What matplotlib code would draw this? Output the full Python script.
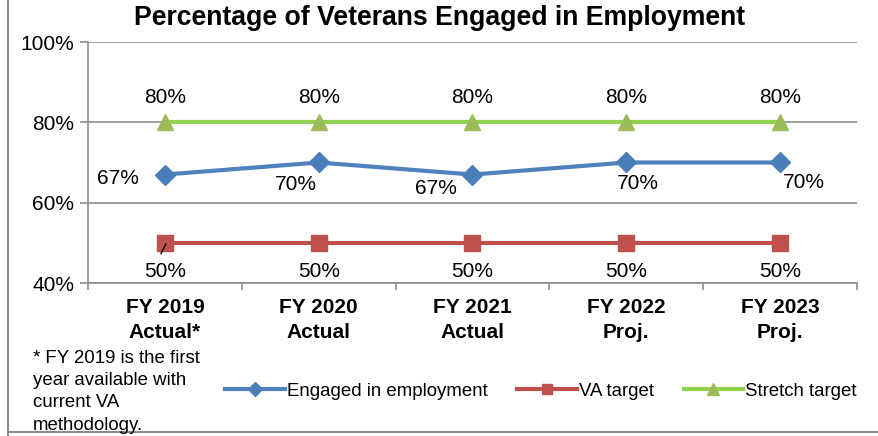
import matplotlib
matplotlib.use("Agg")
import matplotlib.pyplot as plt
from matplotlib.lines import Line2D
from matplotlib.transforms import offset_copy

plt.rcParams['font.family'] = ['Liberation Sans', 'DejaVu Sans']

# Datos
categorias = ['FY 2019\nActual*', 'FY 2020\nActual', 'FY 2021\nActual',
              'FY 2022\nProj.', 'FY 2023\nProj.']
empleo = [67, 70, 67, 70, 70]
meta_va = [50, 50, 50, 50, 50]
meta_ext = [80, 80, 80, 80, 80]
nota = '* FY 2019 is the first\nyear available with\ncurrent VA\nmethodology.'

# Desplazamientos de las etiquetas (pixeles)
off_empleo = [(-47, -4), (-23, -22), (-37, -14), (12, -21), (24, -20)]
off_va = [(0, -29)] * 5
off_ext = [(0, 25)] * 5

azul, rojo, verde, verde_m = '#4F81BD', '#C0504D', '#92D050', '#9BBB59'
gris = '#8C8C8C'

fig = plt.figure(figsize=(8.79, 4.36), dpi=100)
ax = fig.add_axes([88/879, 1 - 283/436, (857-88)/879, (283-42)/436])

x = list(range(len(categorias)))
ax.plot(x, empleo, color=azul, lw=3, marker='D', ms=10, mfc='#4A7EBB',
        mec='#4A7EBB', label='Engaged in employment', zorder=4)
ax.plot(x, meta_va, color=rojo, lw=3, marker='s', ms=11, mfc=rojo,
        mec=rojo, label='VA target', zorder=3)
ax.plot(x, meta_ext, color=verde, lw=3, marker='^', ms=12, mfc=verde_m,
        mec=verde_m, label='Stretch target', zorder=3)

# Etiquetas de datos
for serie, offs in ((empleo, off_empleo), (meta_va, off_va), (meta_ext, off_ext)):
    for xi, yi, (dx, dy) in zip(x, serie, offs):
        ax.annotate(f'{yi}%', (xi, yi), xytext=(dx, dy), textcoords='offset pixels',
                    ha='center', va='center', fontsize=15, color='black')

# linea guia de la primera etiqueta roja
ax.annotate('', xy=(x[0], meta_va[0]),
            xycoords=offset_copy(ax.transData, fig=fig, x=1, y=-1, units='dots'),
            xytext=(x[0], meta_va[0]),
            textcoords=offset_copy(ax.transData, fig=fig, x=-4, y=-11, units='dots'),
            arrowprops=dict(arrowstyle='-', color='black', lw=1, shrinkA=0, shrinkB=0),
            zorder=6)

ax.set_xlim(-0.5, len(categorias) - 0.5)
ax.set_ylim(40, 100)
ax.set_yticks([40, 60, 80, 100])
ax.set_yticklabels([f'{v}%' for v in [40, 60, 80, 100]], fontsize=15)
ax.set_xticks(x)
ax.set_xticklabels(categorias, fontsize=15, fontweight='bold', linespacing=1.37)
ax.set_xticks([i - 0.5 for i in range(len(categorias) + 1)], minor=True)
ax.tick_params(axis='x', which='major', length=0, pad=11)
ax.tick_params(axis='x', which='minor', length=5, color=gris, width=1.2, direction='out')
ax.tick_params(axis='y', length=6, color=gris, width=1.2, pad=4)

ax.grid(axis='y', color=gris, lw=1.2)
ax.set_axisbelow(True)
for lado in ('top', 'right'):
    ax.spines[lado].set_visible(False)
for lado in ('left', 'bottom'):
    ax.spines[lado].set_color(gris)
    ax.spines[lado].set_linewidth(1.2)

fig.text(440/879, 1 - 18/436, 'Percentage of Veterans Engaged in Employment',
         ha='center', va='center', fontsize=19.2, fontweight='bold')

fig.legend(loc='center', bbox_to_anchor=(541/879, 1 - 391/436), ncol=3,
           frameon=False, fontsize=13.4, handlelength=3.2, handletextpad=0.1,
           columnspacing=1.6, markerscale=0.7)

fig.text(33/879, 1 - 350/436, nota, ha='left', va='top', fontsize=13.4,
         linespacing=1.4)

# borde del grafico
fig.add_artist(Line2D([8/879, 8/879], [0, 1], color=gris, lw=1.5))
fig.add_artist(Line2D([8/879, 1], [4/436, 4/436], color=gris, lw=1.5))

fig.savefig('out.png', dpi=100)
